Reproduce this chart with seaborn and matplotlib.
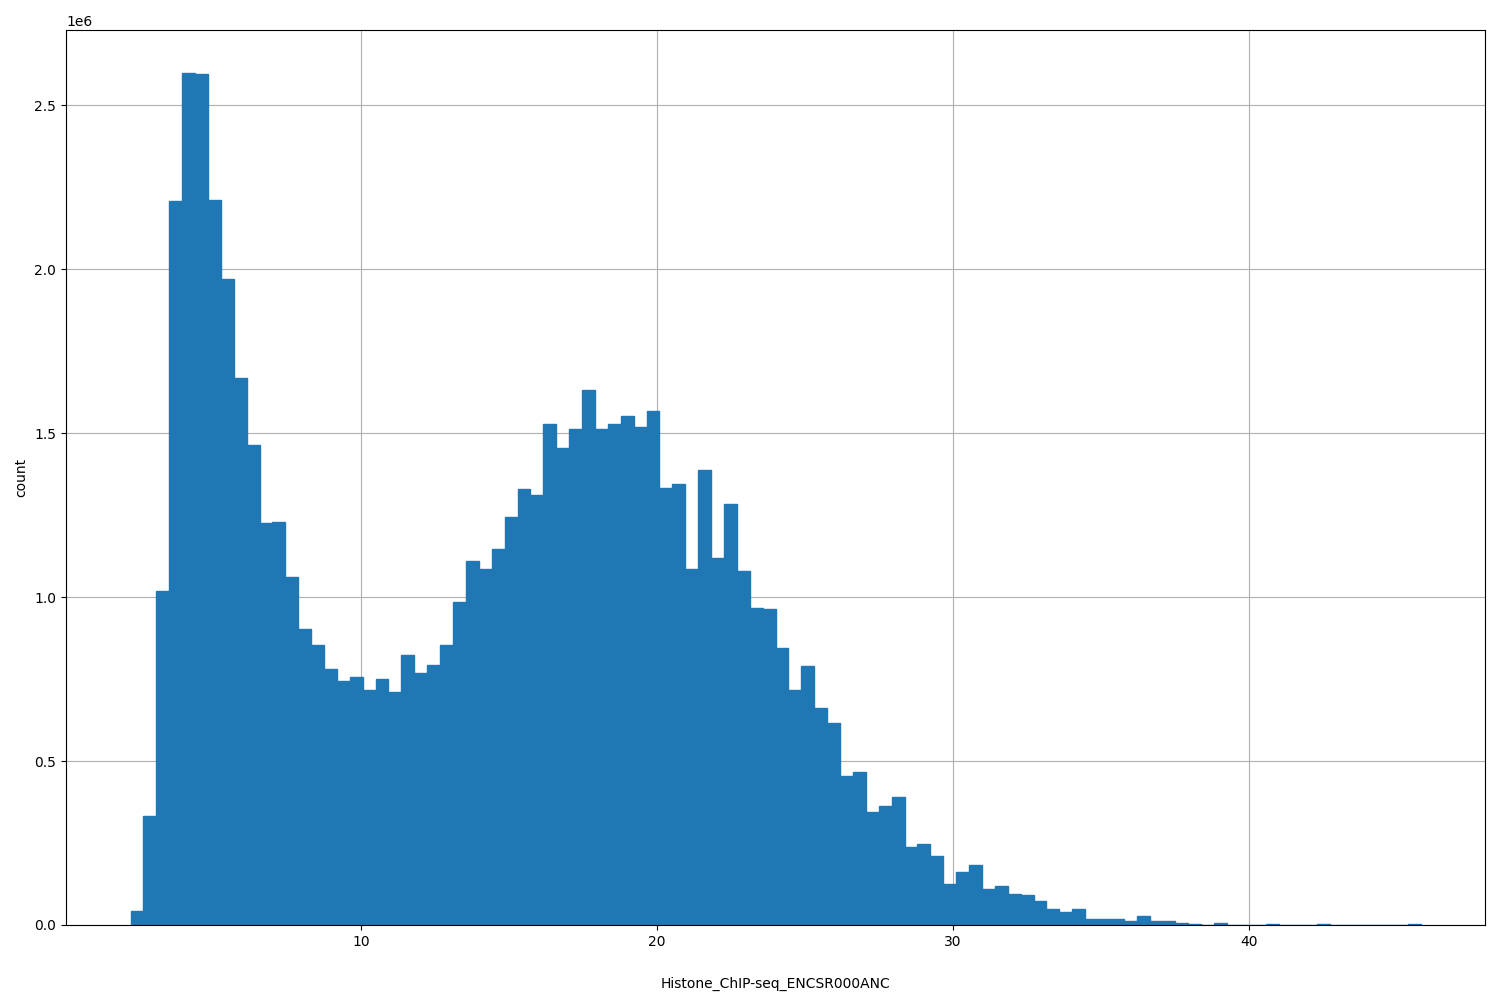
import numpy as np
import pandas as pd
import matplotlib
matplotlib.use("Agg")
import matplotlib.pyplot as plt
import seaborn as sns

bin_start = 2.2
bin_end = 45.8
n_bins = 100
counts_m = [0.043,0.333,1.02,2.207,2.60,2.595,2.21,1.97,1.667,1.465,
            1.227,1.228,1.06,0.904,0.855,0.782,0.745,0.757,0.717,0.751,
            0.711,0.824,0.769,0.794,0.855,0.986,1.111,1.087,1.148,1.245,
            1.331,1.313,1.529,1.456,1.514,1.633,1.514,1.529,1.554,1.52,
            1.569,1.334,1.346,1.087,1.389,1.12,1.285,1.081,0.968,0.965,
            0.846,0.717,0.791,0.662,0.617,0.455,0.467,0.345,0.363,0.391,
            0.238,0.247,0.211,0.125,0.162,0.183,0.11,0.119,0.095,0.092,
            0.073,0.049,0.04,0.049,0.018,0.018,0.018,0.012,0.027,0.013,
            0.013,0.006,0.003,0.001,0.006,0.001,0.001,0.001,0.003,0.001,
            0.001,0.001,0.003,0.0005,0.0005,0.0005,0.0005,0.0005,0.0005,0.003]

edges = np.linspace(bin_start, bin_end, n_bins + 1)
centers = (edges[:-1] + edges[1:]) / 2
df = pd.DataFrame({"x": centers, "w": np.array(counts_m) * 1e6})

fig, ax = plt.subplots(figsize=(15, 10), dpi=100)
fig.subplots_adjust(left=0.044, right=0.99, top=0.97, bottom=0.075)
sns.histplot(data=df, x="x", weights="w", bins=n_bins, binrange=(bin_start, bin_end),
             color="#1f77b4", alpha=1, edgecolor="#1f77b4", linewidth=1.0, ax=ax)
ax.grid(True, color="#b0b0b0", linewidth=0.8)
ax.set_axisbelow(True)
ax.set_xlabel("Histone_ChIP-seq_ENCSR000ANC", labelpad=20)
ax.set_ylabel("count")
fig.savefig("out.png")
